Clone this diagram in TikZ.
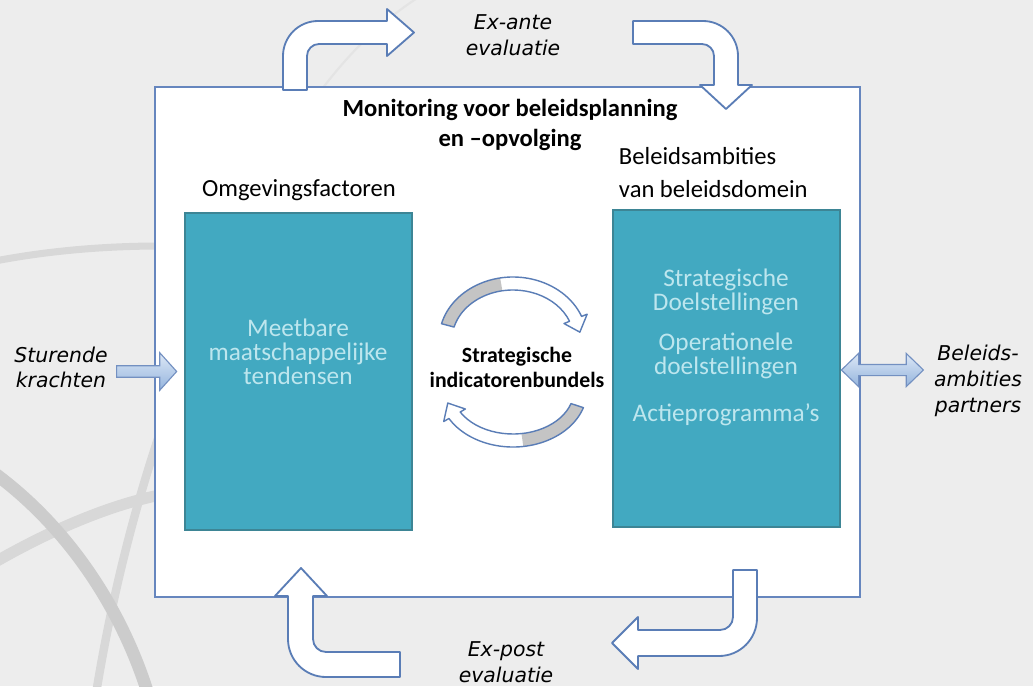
\documentclass[tikz,border=0pt]{standalone}
\usepackage{fontspec}
\setmainfont{Carlito}
\newfontfamily\verdfont{DejaVu Sans}
\usetikzlibrary{calc,shapes.arrows}

\definecolor{achtergrond}{HTML}{EDEDED}
\definecolor{globegrijs}{HTML}{D8D8D8}
\definecolor{kaderblauw}{HTML}{6686BE}
\definecolor{petrol}{HTML}{42A9C1}
\definecolor{petrolrand}{HTML}{3D8595}
\definecolor{lichtpetrol}{HTML}{BDE6EE}
\definecolor{pijlrand}{HTML}{5A7DB6}
\definecolor{pijllicht}{HTML}{DDE8F6}
\definecolor{pijldonker}{HTML}{94B4DD}
\definecolor{schaduw}{HTML}{C4C4C4}

\tikzset{
  tealbox/.style={draw=petrolrand, fill=petrol, line width=0.8pt, inner sep=0pt,
    minimum width=5.675cm, minimum height=7.925cm},
  boxtekst/.style={align=center, text=lichtpetrol, font=\fontsize{18}{17}\selectfont},
  kop/.style={font=\fontsize{17.5}{23}\selectfont},
  cursief/.style={align=center, font=\verdfont\itshape\fontsize{14.5}{18.3}\selectfont},
  bochtpijl/.style={draw=pijlrand, fill=white, line width=1.3pt, line join=round},
  rondpijl/.style={draw=pijlrand, line width=1pt, line join=round},
  instroompijl/.style={single arrow, draw=pijlrand!85, top color=pijllicht, bottom color=pijldonker,
    line width=0.8pt, inner sep=0.131cm, single arrow head extend=0.325cm,
    single arrow tip angle=96, minimum height=1.5cm},
  wisselpijl/.style={double arrow, draw=pijlrand!85, top color=pijllicht, bottom color=pijldonker,
    line width=0.8pt, inner sep=0.125cm, double arrow head extend=0.275cm,
    double arrow tip angle=88, minimum height=2.05cm},
  globe/.style={draw=globegrijs, line cap=round}
}

\begin{document}
\begin{tikzpicture}[x=0.025cm, y=-0.025cm]

\useasboundingbox (0,0) rectangle (1033,686);
\fill[achtergrond] (0,0) rectangle (1033,686);

% globe in de achtergrond
\draw[globe, line width=6] (95,700) .. controls (130,480) and (200,300) .. (300,120);
\draw[globe, line width=1.5, globegrijs!70] (300,120) .. controls (340,60) and (380,20) .. (430,-10);
\draw[globe, line width=5] (-10,262) .. controls (50,250) and (110,246) .. (160,246);
\draw[globe, line width=8] (-10,565) .. controls (50,530) and (110,505) .. (160,495);
\draw[globe, line width=9, gray!40] (-10,470) .. controls (60,520) and (120,600) .. (150,700);

% kader
\draw[kaderblauw, fill=white, line width=1.4pt] (155,87) rectangle (860,597);

\node (titel) at (510,125) [align=center, font={\bfseries\fontsize{17.5}{21}\selectfont}] {Monitoring voor beleidsplanning\\en --opvolging};

\node (omgkop) at (299,190) [kop] {Omgevingsfactoren};
\node (beleidkop) at (614,173) [anchor=west, align=left, font=\fontsize{17.5}{23.5}\selectfont] {Beleidsambities\\van beleidsdomein};

\node (omgbox) at (298.5,371.5) [tealbox] {};
\node (beleidbox) at (726.5,368.5) [tealbox] {};

\node (omgtekst) at (298,352) [boxtekst] {Meetbare\\maatschappelijke\\tendensen};
\node (beleidtekst) at (726,347) [boxtekst] {Strategische\\Doelstellingen\\[12pt] Operationele\\doelstellingen\\[16pt] Actieprogramma's};

\node (indicatoren) at (517,367.5) [align=center, font=\bfseries\fontsize{15.5}{17.7}\selectfont] {Strategische\\indicatorenbundels};

% ronde pijlen rond de indicatoren
\begin{scope}[shift={(513,340)}]
  \fill[white] (-165:74 and 63) arc[start angle=-165, end angle=-22, x radius=74, y radius=63]
    -- (-22:80 and 69) -- (-8:67.5 and 56.5) -- (-22:55 and 44) -- (-22:61 and 50)
    arc[start angle=-22, end angle=-165, x radius=61, y radius=50] -- cycle;
  \fill[schaduw] (-165:74 and 63) arc[start angle=-165, end angle=-100, x radius=74, y radius=63]
    -- (-100:61 and 50) arc[start angle=-100, end angle=-165, x radius=61, y radius=50] -- cycle;
  \draw[rondpijl] (-165:74 and 63) arc[start angle=-165, end angle=-22, x radius=74, y radius=63]
    -- (-22:80 and 69) -- (-8:67.5 and 56.5) -- (-22:55 and 44) -- (-22:61 and 50)
    arc[start angle=-22, end angle=-165, x radius=61, y radius=50] -- cycle;
\end{scope}
\begin{scope}[shift={(513,390)}]
  \fill[white] (18:74 and 57) arc[start angle=18, end angle=150, x radius=74, y radius=57]
    -- (150:80 and 63) -- (165:67.5 and 50.5) -- (150:55 and 38) -- (150:61 and 44)
    arc[start angle=150, end angle=18, x radius=61, y radius=44] -- cycle;
  \fill[schaduw] (18:74 and 57) arc[start angle=18, end angle=82, x radius=74, y radius=57]
    -- (82:61 and 44) arc[start angle=82, end angle=18, x radius=61, y radius=44] -- cycle;
  \draw[rondpijl] (18:74 and 57) arc[start angle=18, end angle=150, x radius=74, y radius=57]
    -- (150:80 and 63) -- (165:67.5 and 50.5) -- (150:55 and 38) -- (150:61 and 44)
    arc[start angle=150, end angle=18, x radius=61, y radius=44] -- cycle;
\end{scope}

% evaluatiepijlen
\draw[bochtpijl] (283,90) -- (283,56) arc[start angle=180, end angle=270, radius=35] -- (387,21)
  -- (387,9) -- (414,32.5) -- (387,56) -- (387,44) -- (319,44)
  arc[start angle=270, end angle=180, radius=12] -- (307,90) -- cycle;
\draw[bochtpijl] (633,21) -- (703,21) arc[start angle=270, end angle=360, radius=35] -- (738,85)
  -- (752,85) -- (726,109) -- (700,85) -- (714,85) -- (714,56)
  arc[start angle=0, end angle=-90, radius=12] -- (633,44) -- cycle;
\draw[bochtpijl] (301,568) -- (327,596) -- (313,596) -- (313,639)
  arc[start angle=180, end angle=90, radius=13] -- (400,652) -- (400,677) -- (326,677)
  arc[start angle=90, end angle=180, radius=38] -- (288,596) -- (275,596) -- cycle;
\draw[bochtpijl] (733,570) -- (757,570) -- (757,618) arc[start angle=0, end angle=90, radius=38]
  -- (638,656) -- (638,669) -- (612,643) -- (638,617) -- (638,630) -- (720,630)
  arc[start angle=90, end angle=0, radius=13] -- cycle;

\node (exante) at (513,35) [cursief] {Ex-ante\\evaluatie};
\node (expost) at (506,662.5) [cursief] {Ex-post\\evaluatie};

\node (sturende) at (61,367.5) [cursief] {Sturende\\krachten};
\node (partners) at (978,381) [cursief] {Beleids-\\ambities\\partners};

\node (instroom) at ($(omgbox.west)+(-7,0)$) [instroompijl, anchor=tip] {};
\node (uitwissel) at ($(beleidbox.east)+(0,1.5)$) [wisselpijl, anchor=west] {};

\end{tikzpicture}
\end{document}
